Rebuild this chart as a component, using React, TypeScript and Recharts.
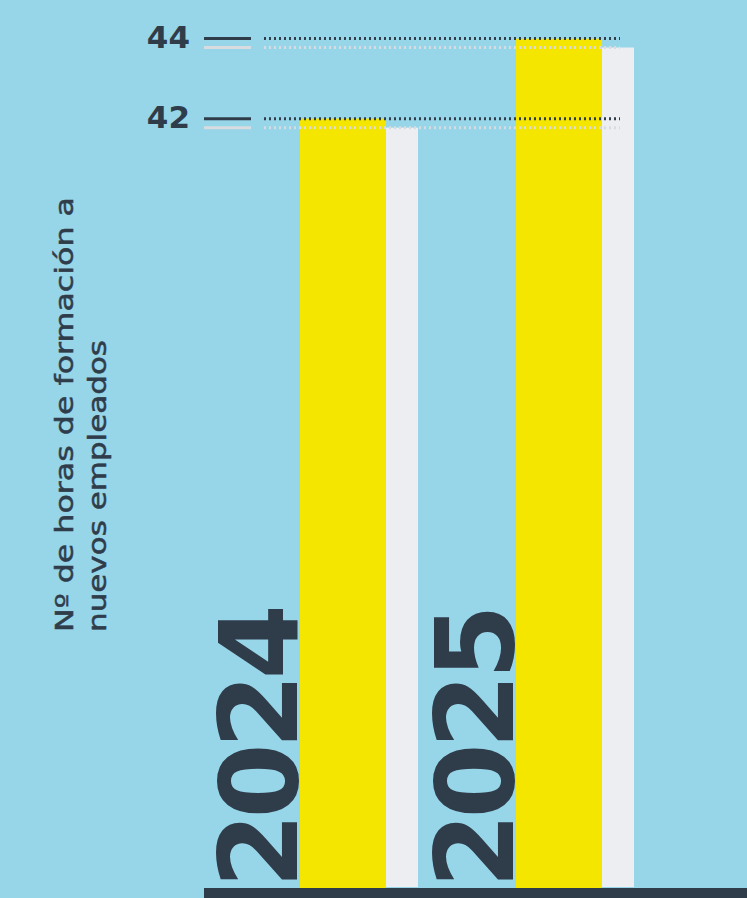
import React from 'react';
import { BarChart, Bar, XAxis, YAxis, ReferenceLine } from 'recharts';

const years = ['2024', '2025'];
const hours = [42, 44];
const yTicks = [42, 44];
const yLabelLines = ['Nº de horas de formación a', 'nuevos empleados'];

const data = years.map((y, i) => ({ year: y, hours: hours[i] }));

const BG = '#97D5E8';
const DARK = '#2F3C4A';
const YELLOW = '#F5E600';
const SHADOW = '#ECEEF2';
const LIGHT = '#D8DCE0';

const BarShape = (props: any) => {
  const { x, y, width, height } = props;
  return (
    <g>
      <rect x={x} y={y + 9} width={width + 32} height={height - 10} fill={SHADOW} />
      <rect x={x} y={y} width={width} height={height} fill={YELLOW} />
    </g>
  );
};

const YTick = (props: any) => {
  const { y, payload } = props;
  return (
    <g>
      <text x={190} y={y + 9.5} textAnchor="end" fontFamily="DejaVu Sans" fontWeight={700} fontSize={31} fill={DARK}>
        {payload.value}
      </text>
      <line x1={204} x2={251} y1={y} y2={y} stroke={DARK} strokeWidth={3} />
      <line x1={204} x2={251} y1={y + 9} y2={y + 9} stroke={LIGHT} strokeWidth={3} />
    </g>
  );
};

const XTick = (props: any) => {
  const { x, payload } = props;
  const bx = x - 46;
  return (
    <text
      transform={`translate(${bx},888) rotate(-90)`}
      x={0}
      y={0}
      textAnchor="start"
      fontFamily="DejaVu Sans"
      fontWeight={700}
      fontSize={108}
      fill={DARK}
      textLength={284}
      lengthAdjust="spacing"
    >
      {payload.value}
    </text>
  );
};

const DottedLine = (props: any) => {
  const y = props.y1;
  return (
    <g>
      <line x1={264} x2={620} y1={y} y2={y} stroke={DARK} strokeWidth={3} strokeDasharray="2 3" />
      <line x1={264} x2={620} y1={y + 9} y2={y + 9} stroke={LIGHT} strokeWidth={3} strokeDasharray="2 3" />
    </g>
  );
};

const YLabel = () => (
  <g>
    <text transform="translate(73,632) rotate(-90)" fontFamily="DejaVu Sans" fontWeight={400} fontSize={25} fill={DARK} stroke={DARK} strokeWidth={0.5} textLength={435} lengthAdjust="spacingAndGlyphs">
      {yLabelLines[0]}
    </text>
    <text transform="translate(106,632) rotate(-90)" fontFamily="DejaVu Sans" fontWeight={400} fontSize={25} fill={DARK} stroke={DARK} strokeWidth={0.5} textLength={292} lengthAdjust="spacingAndGlyphs">
      {yLabelLines[1]}
    </text>
  </g>
);

export default function App() {
  return (
    <div style={{ position: 'fixed', left: 0, top: 0, width: 747, height: 898, background: BG, overflow: 'hidden' }}>
      <BarChart width={747} height={898} data={data} margin={{ top: 38.5, right: 0, left: 0, bottom: 0 }} barSize={86}>
        <XAxis
          dataKey="year"
          height={10}
          padding={{ left: 31, right: 80 }}
          tickLine={false}
          axisLine={{ stroke: DARK, strokeWidth: 10, transform: 'translate(0,5)' }}
          tick={<XTick />}
          interval={0}
        />
        <YAxis
          type="number"
          domain={[22.8, 44]}
          ticks={yTicks}
          width={204}
          axisLine={false}
          tickLine={false}
          tick={<YTick />}
          label={{ content: <YLabel /> }}
          allowDataOverflow
        />
        <Bar dataKey="hours" isAnimationActive={false} shape={<BarShape />} />
        {yTicks.map((t) => (
          <ReferenceLine key={t} y={t} shape={<DottedLine />} />
        ))}
      </BarChart>
    </div>
  );
}
